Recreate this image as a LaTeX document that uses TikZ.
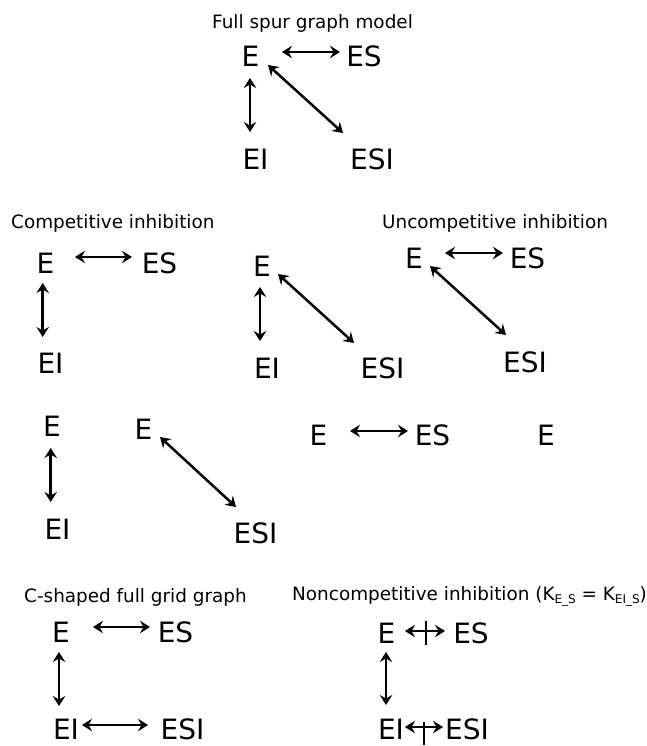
\documentclass[tikz,border=0pt]{standalone}
\usepackage{fontspec}
\setmainfont{DejaVu Sans}
\usetikzlibrary{arrows.meta,calc}
\newcommand\bigfont{\fontsize{28}{32}\selectfont}
\newcommand\ttlfont{\fontsize{18.4}{22}\selectfont}
\newcommand\subfont{\fontsize{12}{14}\selectfont}
\tikzset{
  lbl/.style={font=\bigfont, inner sep=0pt, anchor=base},
  ttl/.style={font=\ttlfont, inner sep=0pt, anchor=base west},
  arr/.style={{Stealth[length=10pt,width=12.5pt,inset=3.5pt]}-{Stealth[length=10pt,width=12.5pt,inset=3.5pt]}, line width=2.5pt},
  tickmark/.style={line width=2.5pt}
}
\begin{document}
\begin{tikzpicture}[x=1pt,y=-1pt]
\path[use as bounding box, fill=white] (0,0) rectangle (646,746);

% Full spur graph model
\node[ttl] (t0) at (212,29) {Full spur graph model};
\node[lbl] (tE) at (250.5,67) {E};
\node[lbl] (tES) at (364,67) {ES};
\node[lbl] (tEI) at (255.5,170) {EI};
\node[lbl] (tESI) at (372,170) {ESI};
\draw[arr] ($(tE.base)+(31.5,-15)$) -- ($(tES.base)+(-24,-15)$);
\draw[arr] ($(tE.base)+(-0.5,11)$) -- ($(tEI.base)+(-5.5,-38)$);
\draw[arr] ($(tE.base)+(17.5,-2)$) -- ($(tESI.base)+(-29,-37)$);

% Competitive inhibition
\node[ttl] (t1) at (11,228) {Competitive inhibition};
\node[lbl] (cE) at (45.5,273) {E};
\node[lbl] (cES) at (159.5,273) {ES};
\node[lbl] (cEI) at (50.5,373) {EI};
\draw[arr] ($(cE.base)+(29.5,-16)$) -- ($(cES.base)+(-27.5,-16)$);
\draw[arr] ($(cE.base)+(-2.8,10)$) -- ($(cEI.base)+(-7.8,-36)$);

% Middle graph
\node[lbl] (mE) at (262,276) {E};
\node[lbl] (mEI) at (267,378) {EI};
\node[lbl] (mESI) at (382.5,378) {ESI};
\draw[arr] ($(mE.base)+(-2,11)$) -- ($(mEI.base)+(-7,-37)$);
\draw[arr] ($(mE.base)+(16,-2)$) -- ($(mESI.base)+(-28.5,-35)$);

% Uncompetitive inhibition
\node[ttl] (t2) at (382,228) {Uncompetitive inhibition};
\node[lbl] (uE) at (414,268) {E};
\node[lbl] (uES) at (527.5,268) {ES};
\node[lbl] (uESI) at (525,372) {ESI};
\draw[arr] ($(uE.base)+(31,-15)$) -- ($(uES.base)+(-24.5,-15)$);
\draw[arr] ($(uE.base)+(16,-2)$) -- ($(uESI.base)+(-19,-37)$);

% Row 3
\node[lbl] (aE) at (52,436) {E};
\node[lbl] (aEI) at (57.5,539) {EI};
\draw[arr] ($(aE.base)+(-1.3,12)$) -- ($(aEI.base)+(-6.8,-37)$);
\node[lbl] (bE) at (143.5,439) {E};
\node[lbl] (bESI) at (255.5,543) {ESI};
\draw[arr] ($(bE.base)+(16.5,-2)$) -- ($(bESI.base)+(-19.5,-36)$);
\node[lbl] (dE) at (318.5,445) {E};
\node[lbl] (dES) at (432.5,445) {ES};
\draw[arr] ($(dE.base)+(31.5,-14)$) -- ($(dES.base)+(-24.5,-14)$);
\node[lbl] (eE) at (546,445) {E};

% C-shaped full grid graph
\node[ttl] (t3) at (24,602) {C-shaped full grid graph};
\node[lbl] (gE) at (61,642) {E};
\node[lbl] (gES) at (175.5,642) {ES};
\node[lbl] (gEI) at (66,739) {EI};
\node[lbl] (gESI) at (182.5,739) {ESI};
\draw[arr] ($(gE.base)+(32,-15)$) -- ($(gES.base)+(-25.5,-15)$);
\draw[arr] ($(gE.base)+(-2,10)$) -- ($(gEI.base)+(-7,-33)$);
\draw[arr] ($(gEI.base)+(16,-14)$) -- ($(gESI.base)+(-34.5,-14)$);

% Noncompetitive inhibition
\node[ttl] (t4) at (292,600) {Noncompetitive inhibition (K\raisebox{-0.35ex}{\subfont E\_S} = K\raisebox{-0.35ex}{\subfont EI\_S})};
\node[lbl] (nE) at (386.5,643) {E};
\node[lbl] (nES) at (471,643) {ES};
\node[lbl] (nEI) at (391,739) {EI};
\node[lbl] (nESI) at (467,739) {ESI};
\draw[arr] ($(nE.base)+(18.5,-12)$) -- coordinate[pos=0.52] (k1) ($(nES.base)+(-26,-12)$);
\draw[tickmark] ($(k1)+(0,-10)$) -- ($(k1)+(0,14)$);
\draw[arr] ($(nE.base)+(-0.5,9)$) -- ($(nEI.base)+(-5,-34)$);
\draw[arr] ($(nEI.base)+(14,-12)$) -- coordinate[pos=0.5] (k2) ($(nESI.base)+(-24,-12)$);
\draw[tickmark] ($(k2)+(0,-5)$) -- ($(k2)+(0,18)$);
\end{tikzpicture}
\end{document}
